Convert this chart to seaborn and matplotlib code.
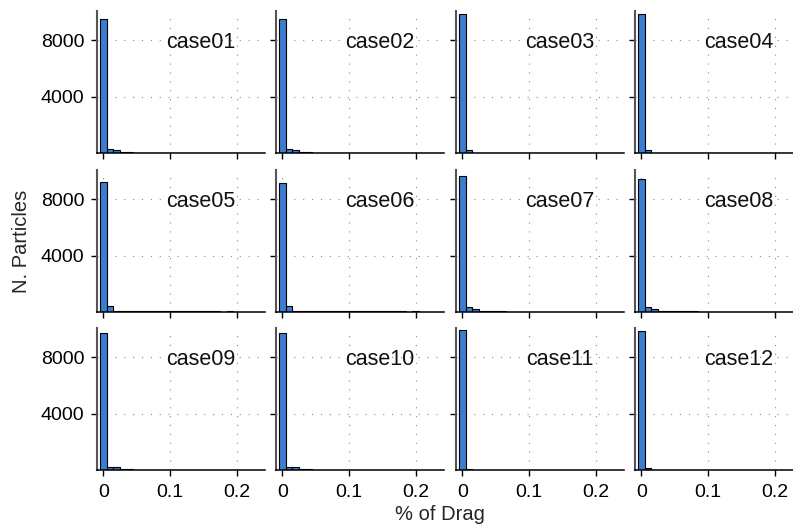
import matplotlib
matplotlib.use("Agg")
import matplotlib.pyplot as plt
import matplotlib.transforms as mtransforms
import seaborn as sns
import pandas as pd

# ---- data (bin centres of % of drag, counts per case) ----
bin_centers = [0.00, 0.01, 0.02, 0.03, 0.04, 0.05, 0.06, 0.07, 0.08, 0.09, 0.10,
               0.11, 0.12, 0.13, 0.14, 0.15, 0.16, 0.17, 0.18, 0.19, 0.20]

case01 = [9520, 260, 240, 100, 90] + [0] * 16
case02 = [9500, 250, 220, 90, 80] + [0] * 16
case03 = [9860, 230] + [0] * 19
case04 = [9860, 200] + [0] * 19
case05 = [9240, 420] + [45] * 16 + [0, 80, 0]
case06 = [9150, 460] + [45] * 17 + [0, 80]
case07 = [9620, 370, 230, 50, 45, 40, 40] + [0] * 14
case08 = [9450, 330, 200, 50, 45, 45, 40, 40, 40] + [0] * 12
case09 = [9680, 220, 200, 80, 70] + [0] * 16
case10 = [9680, 220, 190, 80, 70] + [0] * 16
case11 = [9960, 60] + [0] * 19
case12 = [9870, 170] + [0] * 19

case_names = ["case01", "case02", "case03", "case04", "case05", "case06",
              "case07", "case08", "case09", "case10", "case11", "case12"]
case_counts = [case01, case02, case03, case04, case05, case06,
               case07, case08, case09, case10, case11, case12]

x_ticks = [0, 0.1, 0.2]
x_tick_labels = ["0", "0.1", "0.2"]
y_ticks = [4000, 8000]
y_tick_labels = ["4000", "8000"]

rows = []
for name, counts in zip(case_names, case_counts):
    for c, n in zip(bin_centers, counts):
        rows.append({"case": name, "drag": c, "count": n})
df = pd.DataFrame(rows)

# ---- style ----
sns.set_style("white")
plt.rcParams["font.family"] = ["Liberation Sans", "DejaVu Sans"]

W, H = 793, 532
fig = plt.figure(figsize=(W / 100, H / 100), dpi=100)

col_left = [97, 276, 456, 635]
row_top = [11, 170, 328]
pw, ph = 168, 142

bar_color = "#3A7DD1"
grid_kw = dict(color="#8a8a8a", linewidth=0.8, linestyle=(0, (1, 7)), zorder=0)

for i, name in enumerate(case_names):
    r, c = divmod(i, 4)
    left = col_left[c] / W
    bottom = 1 - (row_top[r] + ph) / H
    ax = fig.add_axes([left, bottom, pw / W, ph / H])
    sub = df[df["case"] == name]
    sns.histplot(data=sub, x="drag", weights="count", binwidth=0.01,
                 binrange=(-0.005, 0.205), color=bar_color, alpha=1,
                 edgecolor="black", linewidth=0.8, ax=ax)
    ax.set_xlim(-0.0095, 0.2425)
    ax.set_ylim(0, 10070)
    for xv in x_ticks:
        ax.axvline(xv, **grid_kw)
    for yv in y_ticks:
        ax.axhline(yv, **grid_kw)
    ax.set_xticks(x_ticks)
    ax.set_yticks(y_ticks)
    if r == 2:
        ax.set_xticklabels(x_tick_labels)
    else:
        ax.set_xticklabels([])
    if c == 0:
        ax.set_yticklabels(y_tick_labels)
    else:
        ax.set_yticklabels([])
    ax.tick_params(axis="both", which="major", length=4, width=1,
                   direction="out", labelsize=14, colors="black",
                   pad=5, bottom=True, left=True)
    ax.tick_params(axis="x", pad=6)
    for s in ["top", "right"]:
        ax.spines[s].set_visible(False)
    ax.spines["left"].set_color("#555555")
    ax.spines["left"].set_linewidth(1.5)
    ax.spines["bottom"].set_color("black")
    ax.spines["bottom"].set_linewidth(1.1)
    ax.set_xlabel("")
    ax.set_ylabel("")
    ax.set_axisbelow(True)
    trans = mtransforms.blended_transform_factory(ax.transAxes, ax.transData)
    ax.text(0.62, 8000, name, transform=trans,
            ha="center", va="center_baseline", fontsize=15.5, color="#111111",
            zorder=5)

fig.text(22 / W, 1 - 241 / H, "N. Particles", rotation=90, ha="center",
         va="center", fontsize=14.5)
fig.text(440 / W, 1 - 515 / H, "% of Drag", ha="center", va="center",
         fontsize=14.5)

fig.savefig("out.png", dpi=100)
